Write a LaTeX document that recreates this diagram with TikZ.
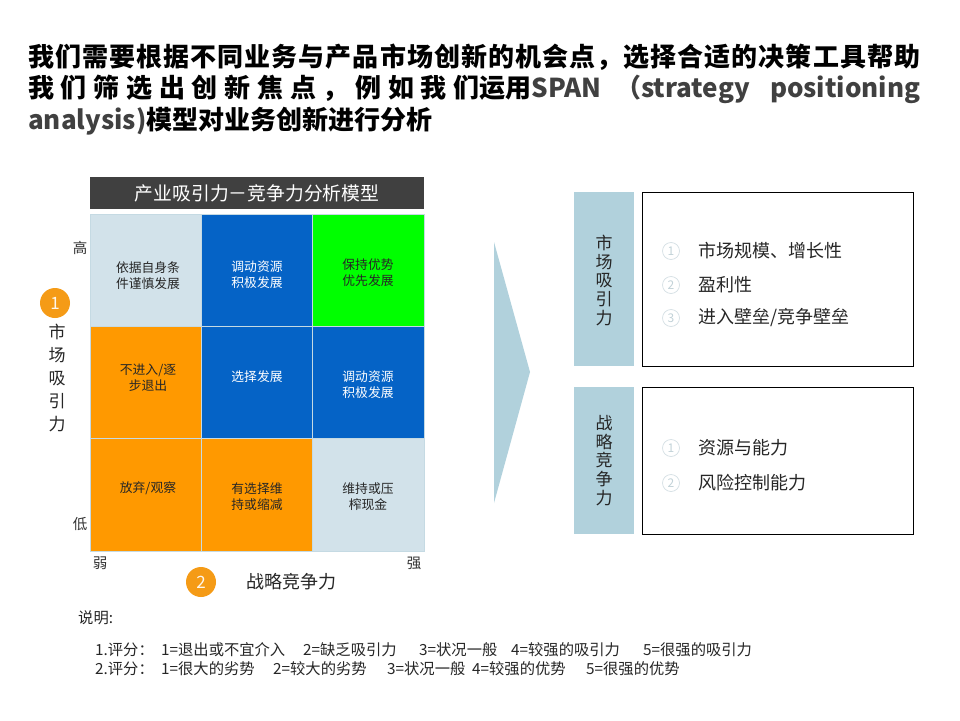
\documentclass[tikz,border=0pt]{standalone}
\usepackage{fontspec}
\setmainfont{Noto Sans CJK SC}
\definecolor{hdr}{HTML}{404040}
\definecolor{lightc}{HTML}{D2E2EA}
\definecolor{bluec}{HTML}{0563C6}
\definecolor{greenc}{HTML}{00FF00}
\definecolor{orangec}{HTML}{FF9900}
\definecolor{gridln}{HTML}{C5DAE3}
\definecolor{circc}{HTML}{F59B16}
\definecolor{paleblue}{HTML}{B1D1DC}
\definecolor{numc}{HTML}{C2D2D8}
\definecolor{latin}{HTML}{404040}
\begin{document}
\begin{tikzpicture}[x=1pt,y=-1pt,
  cellbox/.style={draw=gridln,line width=1pt,minimum width=111.33pt,minimum height=112.33pt,inner sep=0pt},
  celltxt/.style={font=\fontsize{12.8}{16}\selectfont,align=center,inner sep=0pt},
  axistxt/.style={font=\fontsize{14.5}{16}\selectfont,inner sep=0pt,text=black!80},
  badge/.style={circle,fill=circc,minimum size=30pt,inner sep=0pt,text=white!92!circc,font=\fontsize{17}{17}\selectfont},
  vlabel/.style={font=\fontsize{17}{23}\selectfont,align=center,inner sep=0pt,text=black!85},
  rvlabel/.style={font=\fontsize{17}{18.75}\selectfont,align=center,inner sep=0pt,text=black!85},
  item/.style={font=\fontsize{18}{18}\selectfont,anchor=west,inner sep=0pt,text=black!85},
  inum/.style={circle,draw=numc!70,line width=0.7pt,minimum size=17pt,inner sep=0pt,text=numc,font=\fontsize{12}{12}\selectfont},
  note/.style={font=\fontsize{15.3}{16}\selectfont,anchor=west,inner sep=0pt,text=black!85},
  titleln/.style={font=\bfseries\fontsize{26}{26}\selectfont,anchor=west,inner sep=0pt}]
\useasboundingbox (0,0) rectangle (960,720);
\fill[white] (0,0) rectangle (960,720);
% title
\node[titleln] (t1) at (28,57) {\makebox[892pt][s]{我\hfill 们\hfill 需\hfill 要\hfill 根\hfill 据\hfill 不\hfill 同\hfill 业\hfill 务\hfill 与\hfill 产\hfill 品\hfill 市\hfill 场\hfill 创\hfill 新\hfill 的\hfill 机\hfill 会\hfill 点\hfill ，\hfill 选\hfill 择\hfill 合\hfill 适\hfill 的\hfill 决\hfill 策\hfill 工\hfill 具\hfill 帮\hfill 助}};
\node[titleln] (t2) at (28,89) {\makebox[892pt][s]{我\hfill 们\hfill 筛\hfill 选\hfill 出\hfill 创\hfill 新\hfill 焦\hfill 点\hfill ，\hfill 例\hfill 如\hfill 我\hfill 们运用\textcolor{latin}{SPAN}\hfill\hfill\textcolor{latin}{（strategy}\hfill\hfill\hfill\textcolor{latin}{positioning}}};
\node[titleln] (t3) at (28,121) {\textcolor{latin}{analysis)}模型对业务创新进行分析};
% header bar
\node[fill=hdr,minimum width=334pt,minimum height=32pt,inner sep=0pt,text=white,font=\fontsize{18.8}{18.8}\selectfont] (hdrbar) at (257,193) {产业吸引力－竞争力分析模型};
% grid cells
\node[cellbox,fill=lightc] (c11) at (145.67,270.17) {};
\node[cellbox,fill=bluec] (c12) at (257,270.17) {};
\node[cellbox,fill=greenc] (c13) at (368.33,270.17) {};
\node[cellbox,fill=orangec] (c21) at (145.67,382.5) {};
\node[cellbox,fill=bluec] (c22) at (257,382.5) {};
\node[cellbox,fill=bluec] (c23) at (368.33,382.5) {};
\node[cellbox,fill=orangec] (c31) at (145.67,494.83) {};
\node[cellbox,fill=orangec] (c32) at (257,494.83) {};
\node[cellbox,fill=lightc] (c33) at (368.33,494.83) {};
% cell texts
\node[celltxt,text=black!85] (t11) at (148,275.5) {依据自身条\\件谨慎发展};
\node[celltxt,text=white] (t12) at (257,275) {调动资源\\积极发展};
\node[celltxt,text=black!85] (t13) at (368,273) {保持优势\\优先发展};
\node[celltxt,text=black!85] (t21) at (148,377.5) {不进入/逐\\步退出};
\node[celltxt,text=white] (t22) at (257,377) {选择发展};
\node[celltxt,text=white] (t23) at (368,385) {调动资源\\积极发展};
\node[celltxt,text=black!85] (t31) at (148,488) {放弃/观察};
\node[celltxt,text=black!85] (t32) at (257,497) {有选择维\\持或缩减};
\node[celltxt,text=black!85] (t33) at (368,497) {维持或压\\榨现金};
% axis labels
\node[axistxt] (hi) at (80,248) {高};
\node[axistxt] (lo) at (80,524) {低};
\node[axistxt] (weak) at (100,563) {弱};
\node[axistxt] (strong) at (414,563) {强};
\node[badge] (b1) at (55,303) {1};
\node[vlabel] (yaxis) at (57,378) {市\\场\\吸\\引\\力};
\node[badge] (b2) at (201,582) {2};
\node[font=\fontsize{18}{18}\selectfont,inner sep=0pt,text=black!85] (xaxis) at (291,582) {战略竞争力};
% chevron
\fill[paleblue] (494,242) -- (530,372) -- (494,503) -- cycle;
% right boxes
\node[fill=paleblue,minimum width=60pt,minimum height=174pt,inner sep=0pt] (lab1) at (604,279) {};
\node[rvlabel] (lab1t) at (604,280.5) {市\\场\\吸\\引\\力};
\node[draw=black,line width=0.9pt,minimum width=271pt,minimum height=174pt,inner sep=0pt] (box1) at (777.5,279) {};
\node[fill=paleblue,minimum width=60pt,minimum height=147pt,inner sep=0pt] (lab2) at (604,460.5) {};
\node[rvlabel] (lab2t) at (604,460.5) {战\\略\\竞\\争\\力};
\node[draw=black,line width=0.9pt,minimum width=271pt,minimum height=147pt,inner sep=0pt] (box2) at (777.5,460.5) {};
\node[inum] (n11) at (671,251) {1};
\node[item] (i11) at (698,251) {市场规模、增长性};
\node[inum] (n12) at (671,285) {2};
\node[item] (i12) at (698,285) {盈利性};
\node[inum] (n13) at (671,318) {3};
\node[item] (i13) at (698,318) {进入壁垒/竞争壁垒};
\node[inum] (n21) at (671,448) {1};
\node[item] (i21) at (698,448) {资源与能力};
\node[inum] (n22) at (671,483) {2};
\node[item] (i22) at (698,483) {风险控制能力};
% notes
\node[note] (nhead) at (78,618) {说明:};
\node[note] (a0) at (95,650) {1.评分：};
\node[note] (a1) at (161,650) {1=退出或不宜介入};
\node[note] (a2) at (303,650) {2=缺乏吸引力};
\node[note] (a3) at (419,650) {3=状况一般};
\node[note] (a4) at (511,650) {4=较强的吸引力};
\node[note] (a5) at (643,650) {5=很强的吸引力};
\node[note] (b0) at (95,669) {2.评分：};
\node[note] (bb1) at (161,669) {1=很大的劣势};
\node[note] (bb2) at (273,669) {2=较大的劣势};
\node[note] (bb3) at (387,669) {3=状况一般};
\node[note] (bb4) at (472,669) {4=较强的优势};
\node[note] (bb5) at (586,669) {5=很强的优势};
\end{tikzpicture}
\end{document}
